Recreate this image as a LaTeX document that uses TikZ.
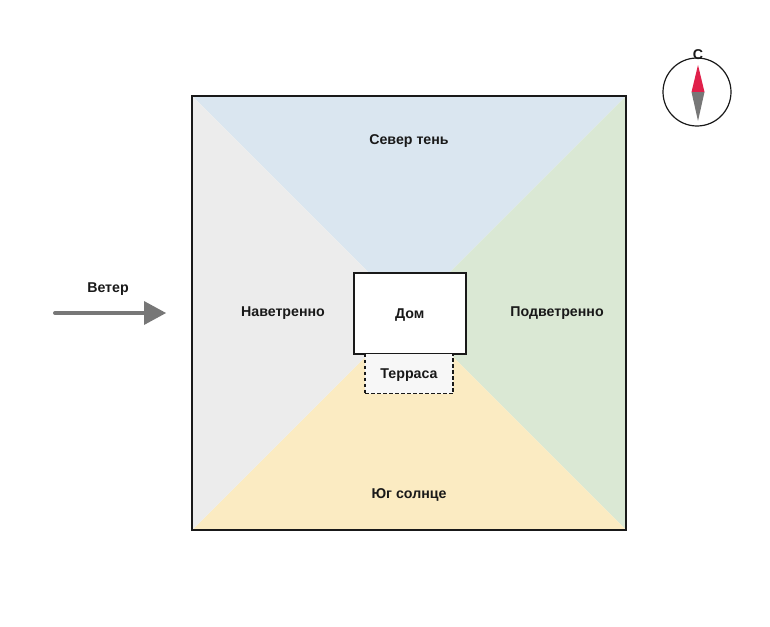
\documentclass[tikz,border=0pt]{standalone}
\usepackage{fontspec}
\setmainfont{Liberation Sans}
\begin{document}
\begin{tikzpicture}[x=1pt,y=-1pt,
  lbl/.style={font=\fontsize{14.2}{16}\selectfont\bfseries, text=black!90, inner sep=0pt},
  box/.style={draw=black!90, line width=1.5pt},
]
\useasboundingbox (0,0) rectangle (770,626);
\definecolor{cnorth}{HTML}{DAE6F0}
\definecolor{ceast}{HTML}{DAE8D4}
\definecolor{csouth}{HTML}{FBEBC2}
\definecolor{cwest}{HTML}{ECECEC}
\definecolor{cred}{HTML}{E0204A}
\definecolor{cgray}{HTML}{777777}
\coordinate (nw) at (192,96);
\coordinate (ne) at (626,96);
\coordinate (se) at (626,530);
\coordinate (sw) at (192,530);
\coordinate (c) at (409,313);
\fill[cnorth] (nw) -- (ne) -- (c) -- cycle;
\fill[ceast] (ne) -- (se) -- (c) -- cycle;
\fill[csouth] (se) -- (sw) -- (c) -- cycle;
\fill[cwest] (sw) -- (nw) -- (c) -- cycle;
\draw[box] (nw) rectangle (se);
% house
\node[box, fill=white, minimum width=112pt, minimum height=81pt, anchor=north west, inner sep=0pt] (dom) at (353,272) {};
\node[lbl] at ([yshift=-1.5pt]dom.center) {Дом};
\node[draw=black!90, line width=1.2pt, dash pattern=on 3.5pt off 2.5pt, fill=black!3, minimum width=88pt, minimum height=40pt, anchor=north, inner sep=0pt] (ter) at (409,353) {};
\node[lbl] at ([yshift=-1.5pt]ter.center) {Терраса};
\node[lbl] (north) at (409,141.5) {Север тень};
\node[lbl] (south) at (409,494.5) {Юг солнце};
\node[lbl] (west) at (283,313.5) {Наветренно};
\node[lbl] (east) at (557,313.5) {Подветренно};
% wind
\node[lbl] (wind) at (108,289.5) {Ветер};
\coordinate (w0) at (55,313);
\coordinate (w1) at (145,313);
\coordinate (wt) at (166,313);
\draw[cgray, line width=4pt, line cap=round] (w0) -- (w1);
\fill[cgray] (wt) -- (144,301) -- (144,325) -- cycle;
% compass
\node[draw=black!90, line width=1.2pt, circle, minimum size=68pt, inner sep=0pt] (comp) at (697,92) {};
\node[lbl] (cn) at (698,54.5) {С};
\fill[cred] (698,65) -- (691.5,92) -- (704.5,92) -- cycle;
\fill[cgray] (698,121) -- (691.5,92) -- (704.5,92) -- cycle;
\end{tikzpicture}
\end{document}
